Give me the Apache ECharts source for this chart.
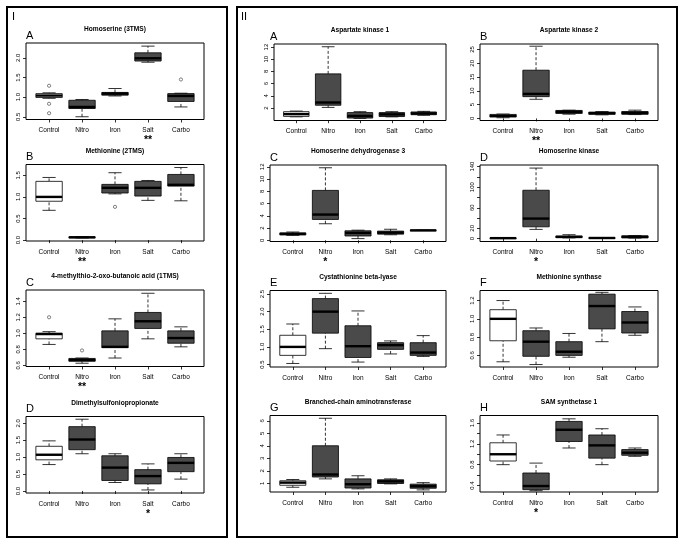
<!DOCTYPE html>
<html><head><meta charset="utf-8">
<script src="https://cdn.jsdelivr.net/npm/echarts@6/dist/echarts.min.js"></script>
<style>html,body{margin:0;padding:0;background:#fff}#c{width:683px;height:546px}</style>
</head><body><div id="c"></div>
<script>
// ---------- DATA ----------
const categories = ['Control', 'Nitro', 'Iron', 'Salt', 'Carbo'];
// each box: [lower whisker, Q1, median, Q3, upper whisker]
const homoserineTitle = 'Homoserine (3TMS)';
const homoserineStats = [[0.97,0.99,1.04,1.09,1.11],[0.50,0.71,0.75,0.92,0.94],[1.03,1.05,1.09,1.12,1.22],[1.89,1.92,1.99,2.13,2.30],[0.75,0.89,1.03,1.09,1.10]];
const homoserineOutliers = [[1,1.29],[1,0.83],[1,0.59],[5,1.45]];
const homoserineTicks = [0.5,1.0,1.5,2.0];
const homoserineStars = ['','','','**',''];

const methionineTitle = 'Methionine (2TMS)';
const methionineStats = [[0.69,0.90,1.00,1.36,1.45],[0.05,0.055,0.065,0.075,0.08],[1.07,1.09,1.21,1.29,1.56],[0.92,1.02,1.21,1.36,1.38],[0.91,1.25,1.28,1.52,1.68]];
const methionineOutliers = [[3,0.77]];
const methionineTicks = [0.0,0.5,1.0,1.5];
const methionineStars = ['','**','','',''];

const mtobTitle = '4-methylthio-2-oxo-butanoic acid (1TMS)';
const mtobStats = [[0.86,0.93,0.99,1.00,1.02],[0.625,0.65,0.665,0.685,0.69],[0.69,0.82,0.83,1.03,1.18],[0.93,1.06,1.15,1.26,1.50],[0.83,0.875,0.94,1.03,1.08]];
const mtobOutliers = [[1,1.20],[2,0.785]];
const mtobTicks = [0.6,0.8,1.0,1.2,1.4];
const mtobStars = ['','**','','',''];

const dmspTitle = 'Dimethylsulfoniopropionate';
const dmspStats = [[0.78,0.92,1.07,1.32,1.48],[1.10,1.22,1.52,1.90,2.12],[0.25,0.31,0.69,1.04,1.10],[0.03,0.21,0.44,0.63,0.80],[0.35,0.57,0.83,0.99,1.10]];
const dmspOutliers = [];
const dmspTicks = [0.0,0.5,1.0,1.5,2.0];
const dmspStars = ['','','','*',''];

const ak1Title = 'Aspartate kinase 1';
const ak1Stats = [[0.55,0.62,1.0,1.4,1.5],[2.1,2.45,2.9,7.6,12.05],[0.3,0.35,0.7,1.25,1.4],[0.55,0.6,0.95,1.25,1.4],[0.8,0.9,1.1,1.35,1.45]];
const ak1Ticks = [2,4,6,8,10,12];
const ak1Stars = ['','','','',''];

const ak2Title = 'Aspartate kinase 2';
const ak2Stats = [[0.25,0.5,0.95,1.45,1.6],[6.95,7.9,8.9,17.5,26.2],[1.55,1.8,2.4,2.9,3.0],[1.3,1.5,1.9,2.3,2.5],[1.4,1.5,2.0,2.5,3.0]];
const ak2Ticks = [0,5,10,15,20,25];
const ak2Stars = ['','**','','',''];

const hdh3Title = 'Homoserine dehydrogenase 3';
const hdh3Stats = [[0.8,0.87,1.05,1.2,1.35],[2.7,3.4,4.2,8.15,11.85],[0.27,0.7,1.2,1.55,1.65],[0.9,1.0,1.25,1.5,1.8],[1.6,1.61,1.62,1.64,1.65]];
const hdh3Ticks = [0,2,4,6,8,10,12];
const hdh3Stars = ['','*','','',''];

const hskTitle = 'Homoserine kinase';
const hskStats = [[0.5,0.8,1.0,1.2,1.5],[18,23,39,94,137],[1.5,2,3.5,5,7.7],[0.8,1,1.3,1.6,2],[1.2,1.5,3.5,5.5,6]];
const hskTicks = [0,20,40,60,80,100,120,140];
const hskLabels = [0,20,60,100,140];
const hskStars = ['','*','','',''];

const cblTitle = 'Cystathionine beta-lyase';
const cblStats = [[0.53,0.76,1.0,1.33,1.65],[0.95,1.39,2.0,2.37,2.52],[0.57,0.7,1.02,1.6,2.02],[0.8,0.93,1.05,1.12,1.17],[0.73,0.76,0.84,1.12,1.32]];
const cblTicks = [0.5,1.0,1.5,2.0,2.5];
const cblStars = ['','','','',''];

const msTitle = 'Methionine synthase';
const msStats = [[0.53,0.76,1.0,1.1,1.2],[0.5,0.59,0.75,0.87,0.9],[0.58,0.6,0.64,0.75,0.84],[0.75,0.89,1.14,1.27,1.29],[0.82,0.845,0.96,1.08,1.13]];
const msTicks = [0.6,0.8,1.0,1.2];
const msStars = ['','','','',''];

const bcatTitle = 'Branched-chain aminotransferase';
const bcatStats = [[0.68,0.84,1.05,1.2,1.3],[1.35,1.5,1.7,4.0,6.2],[0.55,0.62,0.92,1.35,1.6],[0.95,0.98,1.15,1.28,1.35],[0.47,0.6,0.76,0.93,1.05]];
const bcatTicks = [1,2,3,4,5,6];
const bcatStars = ['','','','',''];

const samTitle = 'SAM synthetase 1';
const samStats = [[0.8,0.87,1.0,1.22,1.37],[0.3,0.32,0.39,0.64,0.83],[1.12,1.245,1.47,1.63,1.68],[0.8,0.925,1.17,1.37,1.49],[0.96,0.98,1.03,1.09,1.12]];
const samTicks = [0.4,0.6,0.8,1.0,1.2,1.4,1.6];
const samLabels = [0.4,0.8,1.2,1.6];
const samStars = ['','*','','',''];

// ---------- PANELS (content + layout) ----------
const panels = [
  {title:homoserineTitle, letter:'A', stats:homoserineStats, outliers:homoserineOutliers, ticks:homoserineTicks, labels:homoserineTicks, stars:homoserineStars, dec:1, yMin:0.43, yMax:2.38, left:26, top:43, width:178, letterX:26},
  {title:methionineTitle, letter:'B', stats:methionineStats, outliers:methionineOutliers, ticks:methionineTicks, labels:methionineTicks, stars:methionineStars, dec:1, yMin:-0.02, yMax:1.75, left:26, top:164.5, width:178, letterX:26},
  {title:mtobTitle, letter:'C', stats:mtobStats, outliers:mtobOutliers, ticks:mtobTicks, labels:mtobTicks, stars:mtobStars, dec:1, yMin:0.584, yMax:1.541, left:26, top:290, width:178, letterX:26},
  {title:dmspTitle, letter:'D', stats:dmspStats, outliers:dmspOutliers, ticks:dmspTicks, labels:dmspTicks, stars:dmspStars, dec:1, yMin:-0.06, yMax:2.2, left:26, top:416.5, width:178, letterX:26},
  {title:ak1Title, letter:'A', stats:ak1Stats, outliers:[], ticks:ak1Ticks, labels:ak1Ticks, stars:ak1Stars, dec:0, yMin:-0.05, yMax:12.5, left:274, top:44, width:172, letterX:270},
  {title:ak2Title, letter:'B', stats:ak2Stats, outliers:[], ticks:ak2Ticks, labels:ak2Ticks, stars:ak2Stars, dec:0, yMin:-0.75, yMax:27, left:480, top:44, width:178, letterX:480},
  {title:hdh3Title, letter:'C', stats:hdh3Stats, outliers:[], ticks:hdh3Ticks, labels:hdh3Ticks, stars:hdh3Stars, dec:0, yMin:-0.2, yMax:12.3, left:270, top:165, width:176, letterX:270},
  {title:hskTitle, letter:'D', stats:hskStats, outliers:[], ticks:hskTicks, labels:hskLabels, stars:hskStars, dec:0, yMin:-5.5, yMax:143, left:480, top:165, width:178, letterX:480},
  {title:cblTitle, letter:'E', stats:cblStats, outliers:[], ticks:cblTicks, labels:cblTicks, stars:cblStars, dec:1, yMin:0.43, yMax:2.6, left:270, top:290.5, width:176, letterX:270},
  {title:msTitle, letter:'F', stats:msStats, outliers:[], ticks:msTicks, labels:msTicks, stars:msStars, dec:1, yMin:0.473, yMax:1.31, left:480, top:290.5, width:178, letterX:480},
  {title:bcatTitle, letter:'G', stats:bcatStats, outliers:[], ticks:bcatTicks, labels:bcatTicks, stars:bcatStars, dec:0, yMin:0.3, yMax:6.42, left:270, top:415.5, width:176, letterX:270},
  {title:samTitle, letter:'H', stats:samStats, outliers:[], ticks:samTicks, labels:samLabels, stars:samStars, dec:1, yMin:0.275, yMax:1.744, left:480, top:415.5, width:178, letterX:480}
];

const FONT = "'Liberation Sans', Arial, sans-serif";
const DARK = '#4a4a4a';
const H = 76.5;
const positions = [1,2,3,4,5];

const grids = [], xAxes = [], yAxes = [], series = [], graphics = [];

graphics.push({type:'rect', shape:{x:7,y:7,width:220,height:530}, style:{fill:'none', stroke:'#000', lineWidth:2}, silent:true});
graphics.push({type:'rect', shape:{x:237,y:7,width:440,height:530}, style:{fill:'none', stroke:'#000', lineWidth:2}, silent:true});
graphics.push({type:'text', x:12, y:17, style:{text:'I', fontFamily:FONT, fontSize:11, fill:'#000', align:'left', verticalAlign:'middle'}});
graphics.push({type:'text', x:241, y:17, style:{text:'II', fontFamily:FONT, fontSize:11, fill:'#000', align:'left', verticalAlign:'middle'}});

function renderBox(params, api) {
  const x = api.value(0);
  const lo = api.coord([x, api.value(1)])[1];
  const q1 = api.coord([x, api.value(2)])[1];
  const md = api.coord([x, api.value(3)])[1];
  const q3 = api.coord([x, api.value(4)])[1];
  const hi = api.coord([x, api.value(5)])[1];
  const cx = api.coord([x, api.value(3)])[0];
  const half = api.size([0.8, 0])[0] / 2;
  const st = half / 2;
  const fill = x === 1 ? '#ffffff' : DARK;
  const thin = {stroke:'#000', lineWidth:0.8};
  const dash = {stroke:'#000', lineWidth:0.8, lineDash:[3,2]};
  return {type:'group', children:[
    {type:'line', shape:{x1:cx,y1:q3,x2:cx,y2:hi}, style:dash},
    {type:'line', shape:{x1:cx,y1:lo,x2:cx,y2:q1}, style:dash},
    {type:'line', shape:{x1:cx-st,y1:hi,x2:cx+st,y2:hi}, style:thin},
    {type:'line', shape:{x1:cx-st,y1:lo,x2:cx+st,y2:lo}, style:thin},
    {type:'rect', shape:{x:cx-half,y:q3,width:2*half,height:Math.max(q1-q3,0.5)}, style:{fill:fill, stroke:'#000', lineWidth:0.8}},
    {type:'line', shape:{x1:cx-half,y1:md,x2:cx+half,y2:md}, style:{stroke:'#000', lineWidth:2.4}}
  ]};
}

panels.forEach((p, i) => {
  grids.push({left:p.left, top:p.top, width:p.width, height:H, show:true, borderColor:'#000', borderWidth:1, backgroundColor:'transparent', containLabel:false, outerBoundsMode:'none'});
  xAxes.push({
    gridIndex:i, type:'value', min:0.3, max:5.7,
    axisLine:{show:false}, splitLine:{show:false},
    axisTick:{show:true, customValues:positions, length:3, lineStyle:{color:'#000', width:0.8}},
    axisLabel:{customValues:positions, color:'#000', fontFamily:FONT, fontSize:6.5, margin:7, lineHeight:8,
      formatter:(v) => { const k = Math.round(v) - 1; const s = p.stars[k]; return categories[k] + (s ? '\n{s|' + s + '}' : ''); },
      rich:{s:{fontSize:10.5, fontWeight:'bold', fontFamily:FONT, color:'#000', lineHeight:10, padding:[2,0,0,0]}}}
  });
  yAxes.push({
    gridIndex:i, type:'value', min:p.yMin, max:p.yMax,
    axisLine:{show:false}, splitLine:{show:false},
    axisTick:{show:true, customValues:p.ticks, length:3, lineStyle:{color:'#000', width:0.8}},
    axisLabel:{customValues:p.labels, rotate:90, color:'#000', fontFamily:FONT, fontSize:6, margin:5,
      formatter:(v) => v.toFixed(p.dec)}
  });
  series.push({
    type:'custom', xAxisIndex:i, yAxisIndex:i, renderItem:renderBox, silent:true,
    encode:{x:0, y:[1,2,3,4,5]},
    data:p.stats.map((s, k) => [positions[k]].concat(s))
  });
  if (p.outliers.length) {
    series.push({type:'scatter', xAxisIndex:i, yAxisIndex:i, symbol:'circle', symbolSize:3.2, silent:true,
      itemStyle:{color:'#ffffff', borderColor:'#000', borderWidth:0.6}, data:p.outliers});
  }
  graphics.push({type:'text', x:p.left + p.width/2, y:p.top - 13.5, style:{text:p.title, fontFamily:FONT, fontSize:6.6, fontWeight:'bold', fill:'#000', align:'center', verticalAlign:'middle'}});
  graphics.push({type:'text', x:p.letterX, y:p.top - 7.5, style:{text:p.letter, fontFamily:FONT, fontSize:11, fill:'#000', align:'left', verticalAlign:'middle'}});
});

const chart = echarts.init(document.getElementById('c'), null, {renderer:'canvas'});
chart.setOption({
  backgroundColor:'#ffffff',
  animation:false,
  grid:grids, xAxis:xAxes, yAxis:yAxes, series:series, graphic:graphics
});
</script>
</body></html>
